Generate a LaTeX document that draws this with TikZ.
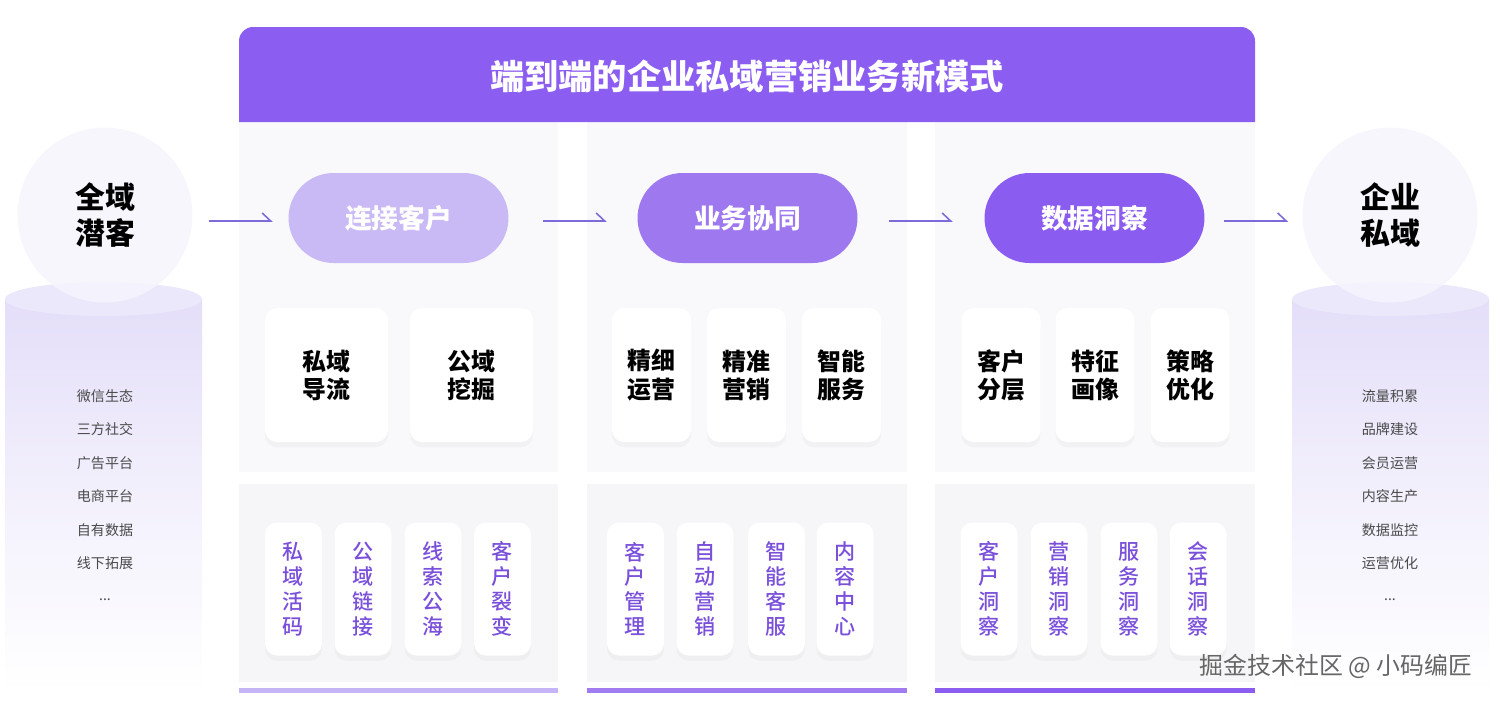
\documentclass[tikz,border=0pt]{standalone}
\usepackage{fontspec}
\setmainfont{Noto Sans CJK SC}
\newfontfamily\heavyfont{Noto Sans CJK SC Black}
\newfontfamily\medfont{Noto Sans CJK SC Medium}
\usetikzlibrary{arrows.meta,positioning,shadows}

\definecolor{banner}{HTML}{8C5DF1}
\definecolor{pillA}{HTML}{C9B9F5}
\definecolor{pillB}{HTML}{9D78EE}
\definecolor{pillC}{HTML}{8B5CF0}
\definecolor{barA}{HTML}{C6B5F6}
\definecolor{barB}{HTML}{A07CF0}
\definecolor{barC}{HTML}{8B5CF0}
\definecolor{colbg}{HTML}{F9F9FB}
\definecolor{lowbg}{HTML}{F6F6F8}
\definecolor{tagc}{HTML}{7A50DA}
\definecolor{itemc}{HTML}{4A4A4A}
\definecolor{arrowc}{HTML}{7E6AD8}
\definecolor{cyltop}{HTML}{E4DEF9}
\definecolor{cylcap}{HTML}{ECE8FB}
\definecolor{hubc}{HTML}{F6F4FD}

\begin{document}
\begin{tikzpicture}[x=0.02cm,y=-0.02cm,
 flow/.style={draw=arrowc,line width=0.9pt,-{Straight Barb[harpoon,length=1.7mm,width=3.2mm]}},
 hub/.style={circle,fill=hubc,fill opacity=0.85,text opacity=1,minimum size=3.5cm,align=center,font=\fontsize{17}{20}\selectfont\heavyfont},
 pill/.style={rounded corners=0.9cm,minimum width=4.4cm,minimum height=1.8cm,text=white,font=\fontsize{15.2}{17}\selectfont\bfseries},
 card/.style={fill=white,rounded corners=0.24cm,minimum height=2.68cm,align=center,font=\fontsize{13.6}{16}\selectfont\bfseries,
  drop shadow={opacity=0.05,shadow xshift=0pt,shadow yshift=-3pt}},
 wide/.style={card,minimum width=2.46cm},
 narrow/.style={card,minimum width=1.58cm},
 tag/.style={fill=white,rounded corners=0.24cm,minimum width=1.14cm,minimum height=2.66cm,align=center,text=tagc,
  font=\fontsize{12}{14.2}\selectfont\medfont,drop shadow={opacity=0.05,shadow xshift=0pt,shadow yshift=-3pt}},
 item/.style={text=itemc,font=\fontsize{8}{9}\selectfont}]
\useasboundingbox (0,0) rectangle (1500,701);

% column panels and bottom bars
\foreach \xa/\xb/\barc in {239/558/barA,587/907/barB,935/1255/barC}{
 \fill[colbg] (\xa,122) rectangle (\xb,472);
 \fill[lowbg] (\xa,484) rectangle (\xb,682);
 \fill[\barc] (\xa,688) rectangle (\xb,693);
}

% banner
\fill[banner] (239,122) [rounded corners=0.28cm] -- (239,27) -- (1255,27) [sharp corners] -- (1255,122) -- cycle;
\node[text=white,font=\fontsize{19.5}{22}\selectfont\heavyfont] (title) at (747,76) {端到端的企业私域营销业务新模式};

% side cylinders
\foreach \cx in {103.5,1390.5}{
 \shade[top color=cyltop,bottom color=white,middle color=cyltop!45] (\cx-98.5,299) rectangle (\cx+98.5,692);
 \fill[cylcap] (\cx,299) ellipse [x radius=1.97cm,y radius=0.34cm];
}

\node[hub] (srcL) at (105,215) {全域\\潜客};
\node[hub] (dstR) at (1390,215) {企业\\私域};

\foreach \t [count=\i from 0] in {微信生态,三方社交,广告平台,电商平台,自有数据,线下拓展}
 \node[item] (srcL-\i) at (105,{396+33.5*\i}) {\t};
\node[item] (srcL-dots) at (105,600) {...};
\foreach \t [count=\i from 0] in {流量积累,品牌建设,会员运营,内容生产,数据监控,运营优化}
 \node[item] (dstR-\i) at (1390,{396+33.5*\i}) {\t};
\node[item] (dstR-dots) at (1390,600) {...};

% stage pills
\node[pill,fill=pillA] (link) at (398.5,218) {连接客户};
\node[pill,fill=pillB] (coop) at (747.5,218) {业务协同};
\node[pill,fill=pillC] (data) at (1094.5,218) {数据洞察};

\draw[flow] ([xshift=0.32cm,yshift=-0.06cm]srcL.east |- link.west) -- ([xshift=-0.31cm,yshift=-0.06cm]link.west);
\draw[flow] ([xshift=0.69cm,yshift=-0.06cm]link.east) -- ([xshift=-0.61cm,yshift=-0.06cm]coop.west);
\draw[flow] ([xshift=0.63cm,yshift=-0.06cm]coop.east) -- ([xshift=-0.63cm,yshift=-0.06cm]data.west);
\draw[flow] ([xshift=0.39cm,yshift=-0.06cm]data.east) -- ([xshift=-0.28cm,yshift=-0.06cm]dstR.west |- data.east);

% upper cards
\node[wide] (link-a) at (326.5,375) {私域\\导流};
\node[wide] (link-b) at (471.5,375) {公域\\挖掘};
\node[narrow] (coop-a) at (651.5,375) {精细\\运营};
\node[narrow] (coop-b) at (746.5,375) {精准\\营销};
\node[narrow] (coop-c) at (841.5,375) {智能\\服务};
\node[narrow] (data-a) at (1001,375) {客户\\分层};
\node[narrow] (data-b) at (1095,375) {特征\\画像};
\node[narrow] (data-c) at (1190,375) {策略\\优化};

% lower tags
\node[tag] (link-1) at (293.5,589) {私\\域\\活\\码};
\node[tag] (link-2) at (363,589) {公\\域\\链\\接};
\node[tag] (link-3) at (433,589) {线\\索\\公\\海};
\node[tag] (link-4) at (502.5,589) {客\\户\\裂\\变};
\node[tag] (coop-1) at (635.5,589) {客\\户\\管\\理};
\node[tag] (coop-2) at (705,589) {自\\动\\营\\销};
\node[tag] (coop-3) at (776.5,589) {智\\能\\客\\服};
\node[tag] (coop-4) at (845,589) {内\\容\\中\\心};
\node[tag] (data-1) at (989,589) {客\\户\\洞\\察};
\node[tag] (data-2) at (1059,589) {营\\销\\洞\\察};
\node[tag] (data-3) at (1129,589) {服\\务\\洞\\察};
\node[tag] (data-4) at (1198,589) {会\\话\\洞\\察};

\node[text=black!60,font=\fontsize{13.6}{15}\selectfont] (mark) at (1336,666) {掘金技术社区 @ 小码编匠};
\end{tikzpicture}
\end{document}
